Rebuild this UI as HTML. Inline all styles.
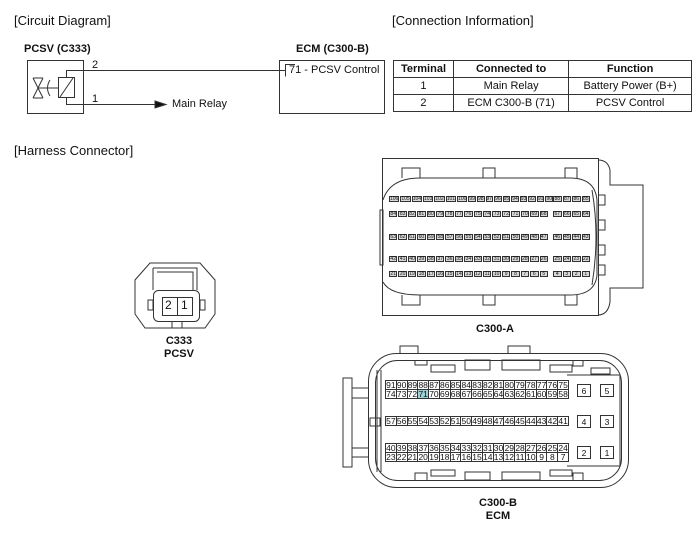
<!DOCTYPE html>
<html><head><meta charset="utf-8"><style>
body{margin:0;width:700px;height:535px;background:#fff;position:relative;overflow:hidden;font-family:"Liberation Sans",sans-serif;color:#111}
.t{position:absolute;white-space:nowrap}
.b{font-weight:bold}
.row{position:absolute;display:flex}
.row span{flex:1;border:1px solid #333;margin-right:-1px;text-align:center;box-sizing:border-box;display:flex;align-items:center;justify-content:center}
.ra span{font-size:5px;background:#d8d8d8;height:6px;line-height:6px;margin-right:1px}
.rb span{font-size:8.5px;background:#fff;height:10px;line-height:10px}
table{border-collapse:collapse;position:absolute;left:393px;top:60px;width:299px;font-size:11px}
td,th{border:1px solid #333;text-align:center;height:16px;padding:0}
</style></head><body>
<div class="t" style="left:14px;top:13px;font-size:13px">[Circuit Diagram]</div>
<div class="t" style="left:392px;top:13px;font-size:13px">[Connection Information]</div>
<div class="t" style="left:14px;top:143px;font-size:13px">[Harness Connector]</div>
<div class="t b" style="left:24px;top:43px;font-size:11px">PCSV (C333)</div>
<div class="t b" style="left:296px;top:43px;font-size:11px">ECM (C300-B)</div>
<div class="t" style="left:92px;top:59px;font-size:11px">2</div>
<div class="t" style="left:92px;top:93px;font-size:11px">1</div>
<div class="t" style="left:172px;top:98px;font-size:11px">Main Relay</div>
<div class="t" style="left:289px;top:64px;font-size:11px">71 - PCSV Control</div>
<svg width="700" height="535" style="position:absolute;left:0;top:0" fill="none" stroke="#333" stroke-width="1">
<rect x="27.5" y="60.5" width="56" height="53"/>
<rect x="279.5" y="60.5" width="105" height="53"/>
<path d="M285.5 76.5V64.5H295"/>
<path d="M66.5 78V70.5H285M66.5 97V104.5H155"/>
<path d="M155 101L166 104.5L155 108Z" fill="#111"/>
<rect x="58.5" y="77.5" width="16" height="20"/>
<path d="M60 97L73 78"/>
<path d="M33 78L43 98M33 98L43 78M33 78H43M33 98H43M38 88H58"/>
<path d="M50 80Q45 88 50 96"/>
<!-- C333 -->
<path d="M150 263H200L215 280V314L205 328H145L135 314V280Z"/>
<path d="M153 268H197V290M153 268V290M157 272H193V290"/>
<rect x="153.5" y="290.5" width="46" height="31" rx="5"/>
<rect x="148" y="300" width="5" height="10"/><rect x="200" y="300" width="5" height="10"/>
<rect x="162.5" y="297.5" width="15" height="18"/><rect x="177.5" y="297.5" width="15" height="18"/>
<path d="M172 322V328M182 322V328"/>
<!-- C300-A -->
<rect x="382.5" y="158.5" width="216" height="157"/>
<path d="M598 160Q608 160 610 170V185H643V288H610V302Q608 315 598 315"/>
<path d="M383 200Q390 178 420 178H570Q595 178 597 200V275Q595 295 570 295H420Q390 295 383 282"/>
<path d="M592 190Q600 236 592 285M598 195H605V205H598M598 220H605V230H598M598 245H605V255H598M598 265H605V275H598"/>
<path d="M402 178V168H420V178M483 178V168H495V178M565 178V168H577V178"/>
<path d="M402 295V305H420V295M483 295V305H495V295M565 295V305H577V295"/>
<rect x="380" y="210" width="3" height="55"/>
<!-- C300-B -->
<rect x="368.5" y="353.5" width="260" height="134" rx="28"/>
<rect x="375.5" y="360.5" width="246" height="120" rx="22"/>
<path d="M343 378H352V467H343ZM352 388H368M352 398H368M352 448H368M352 457H368"/>
<path d="M377 370V472M381 370V472"/>
<path d="M567 375H620V466H567"/>
<path d="M400 353V346H418V353M508 353V346H530V353"/>
<path d="M415 360V365H427V360M431 365h24v7h-24zM465 360h25v10h-25zM502 360h38v10h-38zM550 365h22v7h-22zM573 360v6h10v-6M591 368h19v6h-19z"/>
<path d="M415 480V473H427V480M431 470h24v6h-24zM465 472h25v8h-25zM502 472h38v8h-38zM550 470h22v6h-22zM573 480v-7h10v7"/>
<rect x="370" y="418" width="10" height="8" stroke="#333"/>
</svg>
<table><tr><th>Terminal</th><th>Connected to</th><th>Function</th></tr>
<tr><td>1</td><td>Main Relay</td><td>Battery Power (B+)</td></tr>
<tr><td>2</td><td>ECM C300-B (71)</td><td>PCSV Control</td></tr></table>
<div class="t b" style="left:164px;top:335px;font-size:11px;text-align:center;width:30px;line-height:13px">C333<br>PCSV</div>
<div class="t" style="left:165px;top:298px;font-size:12px">2</div>
<div class="t" style="left:181px;top:298px;font-size:12px">1</div>
<!-- C300-A pins -->
<div class="row ra" style="left:389px;top:196px;width:160px"><span>106</span><span>105</span><span>104</span><span>103</span><span>102</span><span>101</span><span>100</span><span>99</span><span>98</span><span>97</span><span>96</span><span>95</span><span>94</span><span>93</span><span>92</span><span>91</span><span>90</span><span>89</span></div>
<div class="row ra" style="left:553px;top:196px;width:38px"><span>88</span><span>87</span><span>86</span><span>85</span></div>
<div class="row ra" style="left:389px;top:211px;width:160px"><span>84</span><span>83</span><span>82</span><span>81</span><span>80</span><span>79</span><span>78</span><span>77</span><span>76</span><span>75</span><span>74</span><span>73</span><span>72</span><span>71</span><span>70</span><span>69</span><span>68</span></div>
<div class="row ra" style="left:553px;top:211px;width:38px"><span>67</span><span>66</span><span>65</span><span>64</span></div>
<div class="row ra" style="left:389px;top:234px;width:160px"><span>63</span><span>62</span><span>61</span><span>60</span><span>59</span><span>58</span><span>57</span><span>56</span><span>55</span><span>54</span><span>53</span><span>52</span><span>51</span><span>50</span><span>49</span><span>48</span><span>47</span></div>
<div class="row ra" style="left:553px;top:234px;width:38px"><span>46</span><span>45</span><span>44</span><span>43</span></div>
<div class="row ra" style="left:389px;top:256px;width:160px"><span>42</span><span>41</span><span>40</span><span>39</span><span>38</span><span>37</span><span>36</span><span>35</span><span>34</span><span>33</span><span>32</span><span>31</span><span>30</span><span>29</span><span>28</span><span>27</span><span>26</span></div>
<div class="row ra" style="left:553px;top:256px;width:38px"><span>25</span><span>24</span><span>23</span><span>22</span></div>
<div class="row ra" style="left:389px;top:271px;width:160px"><span>21</span><span>20</span><span>19</span><span>18</span><span>17</span><span>16</span><span>15</span><span>14</span><span>13</span><span>12</span><span>11</span><span>10</span><span>9</span><span>8</span><span>7</span><span>6</span><span>5</span></div>
<div class="row ra" style="left:553px;top:271px;width:38px"><span>4</span><span>3</span><span>2</span><span>1</span></div>
<div class="t b" style="left:470px;top:323px;font-size:11px;width:50px;text-align:center">C300-A</div>
<!-- C300-B pins -->
<div class="row rb" style="left:385px;top:380px;width:183px"><span>91</span><span>90</span><span>89</span><span>88</span><span>87</span><span>86</span><span>85</span><span>84</span><span>83</span><span>82</span><span>81</span><span>80</span><span>79</span><span>78</span><span>77</span><span>76</span><span>75</span></div>
<div class="row rb" style="left:385px;top:389px;width:183px"><span>74</span><span>73</span><span>72</span><span style="background:#9fcfd6">71</span><span>70</span><span>69</span><span>68</span><span>67</span><span>66</span><span>65</span><span>64</span><span>63</span><span>62</span><span>61</span><span>60</span><span>59</span><span>58</span></div>
<div class="row rb" style="left:385px;top:416px;width:183px"><span>57</span><span>56</span><span>55</span><span>54</span><span>53</span><span>52</span><span>51</span><span>50</span><span>49</span><span>48</span><span>47</span><span>46</span><span>45</span><span>44</span><span>43</span><span>42</span><span>41</span></div>
<div class="row rb" style="left:385px;top:443px;width:183px"><span>40</span><span>39</span><span>38</span><span>37</span><span>36</span><span>35</span><span>34</span><span>33</span><span>32</span><span>31</span><span>30</span><span>29</span><span>28</span><span>27</span><span>26</span><span>25</span><span>24</span></div>
<div class="row rb" style="left:385px;top:452px;width:183px"><span>23</span><span>22</span><span>21</span><span>20</span><span>19</span><span>18</span><span>17</span><span>16</span><span>15</span><span>14</span><span>13</span><span>12</span><span>11</span><span>10</span><span>9</span><span>8</span><span>7</span></div>
<div class="row rb" style="left:577px;top:384px;width:13px"><span style="height:13px">6</span></div>
<div class="row rb" style="left:600px;top:384px;width:13px"><span style="height:13px">5</span></div>
<div class="row rb" style="left:577px;top:415px;width:13px"><span style="height:13px">4</span></div>
<div class="row rb" style="left:600px;top:415px;width:13px"><span style="height:13px">3</span></div>
<div class="row rb" style="left:577px;top:446px;width:13px"><span style="height:13px">2</span></div>
<div class="row rb" style="left:600px;top:446px;width:13px"><span style="height:13px">1</span></div>
<div class="t b" style="left:470px;top:497px;font-size:11px;width:56px;text-align:center;line-height:13px">C300-B<br>ECM</div>
</body></html>
